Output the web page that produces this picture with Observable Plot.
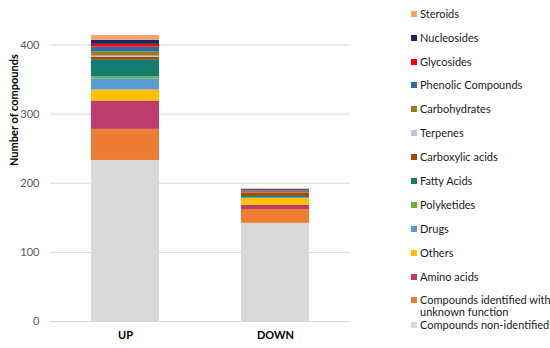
<!DOCTYPE html>
<html>
<head>
<meta charset="utf-8">
<script src="https://cdn.jsdelivr.net/npm/d3@7"></script>
<script src="https://cdn.jsdelivr.net/npm/@observablehq/plot@0.6"></script>
<style>
  html, body { margin: 0; padding: 0; background: #fff; }
  #wrap { position: relative; width: 550px; height: 348px; overflow: hidden; font-family: Lato, "Open Sans", sans-serif; }
  #chart { position: absolute; left: 0; top: 0; }
  #legend { position: absolute; left: 0; top: 0; }
  .item { position: absolute; left: 411px; display: flex; align-items: flex-start; font-size: 11px; line-height: 12px; color: #1a1a1a; }
  .sw { width: 6px; height: 6px; margin-top: 3px; margin-right: 3px; flex: none; }
  .lab { width: 134px; }
</style>
</head>
<body>
<div id="wrap">
  <div id="chart"></div>
  <div id="legend"></div>
</div>
<script>
// Groups (x categories)
const groups = ["UP", "DOWN"];

// Categories, from bottom of stack to top
const categories = [
  "Compounds non-identified",
  "Compounds identified with unknown function",
  "Amino acids",
  "Others",
  "Drugs",
  "Polyketides",
  "Fatty Acids",
  "Carboxylic acids",
  "Terpenes",
  "Carbohydrates",
  "Phenolic Compounds",
  "Glycosides",
  "Nucleosides",
  "Steroids"
];

// Values per category (same order as categories)
const upValues   = [233, 45, 41, 16, 16, 3, 24, 4, 2, 6, 7, 4, 6, 7];
const downValues = [142, 20, 6, 10, 1, 0, 2, 5, 0, 1, 2, 1, 1, 1];

// Colours (same order as categories)
const colors = [
  "#d9d9d9", "#ed7d31", "#be3b6d", "#ffc000", "#5b9bd5", "#70ad47", "#127c6e",
  "#a0490f", "#b4c7e7", "#9e7b10", "#306aa5", "#ff0000", "#1b2a5e", "#f4a46a"
];

const yTicks = [0, 100, 200, 300, 400];
const yLabel = "Number of compounds";

const rows = [];
categories.forEach((c, i) => {
  rows.push({group: "UP", category: c, value: upValues[i]});
  rows.push({group: "DOWN", category: c, value: downValues[i]});
});

const chart = Plot.plot({
  width: 370,
  height: 348,
  marginLeft: 50,
  marginRight: 20,
  marginTop: 10,
  marginBottom: 27,
  style: {fontFamily: "Lato, 'Open Sans', sans-serif", fontSize: "11px", background: "transparent", overflow: "visible"},
  x: {domain: groups, paddingInner: 0.547, paddingOuter: 0.2735, label: null},
  y: {domain: [0, 450], label: null},
  color: {domain: categories, range: colors},
  marks: [
    Plot.gridY(yTicks, {stroke: "#d9d9d9", strokeOpacity: 1, strokeWidth: 1}),
    Plot.barY(rows, {x: "group", y: "value", fill: "category", order: null}),
    Plot.axisY({ticks: yTicks, tickSize: 0, tickPadding: 11, fill: "#595959", label: null}),
    Plot.axisX({tickSize: 0, tickPadding: 10, fontWeight: "bold", fill: "#000", fontSize: 11, label: null}),
    Plot.text([yLabel], {text: d => d, frameAnchor: "left", rotate: -90, dx: -36, fontWeight: "bold", fill: "#000", fontSize: 11})
  ]
});
document.getElementById("chart").appendChild(chart);

// Legend (top to bottom reversed from stack order)
const legend = document.getElementById("legend");
const legendCats = categories.slice().reverse();
const legendColors = colors.slice().reverse();
const n = legendCats.length;
legendCats.forEach((c, i) => {
  const item = document.createElement("div");
  item.className = "item";
  let center = 13.7 + i * 23.9;
  if (i === n - 2) center -= 0.7;
  if (i === n - 1) center += 0.6;
  item.style.top = (center - 6) + "px";
  const sw = document.createElement("div");
  sw.className = "sw";
  sw.style.background = legendColors[i];
  const lab = document.createElement("div");
  lab.className = "lab";
  lab.textContent = c;
  item.appendChild(sw);
  item.appendChild(lab);
  legend.appendChild(item);
});
</script>
</body>
</html>
